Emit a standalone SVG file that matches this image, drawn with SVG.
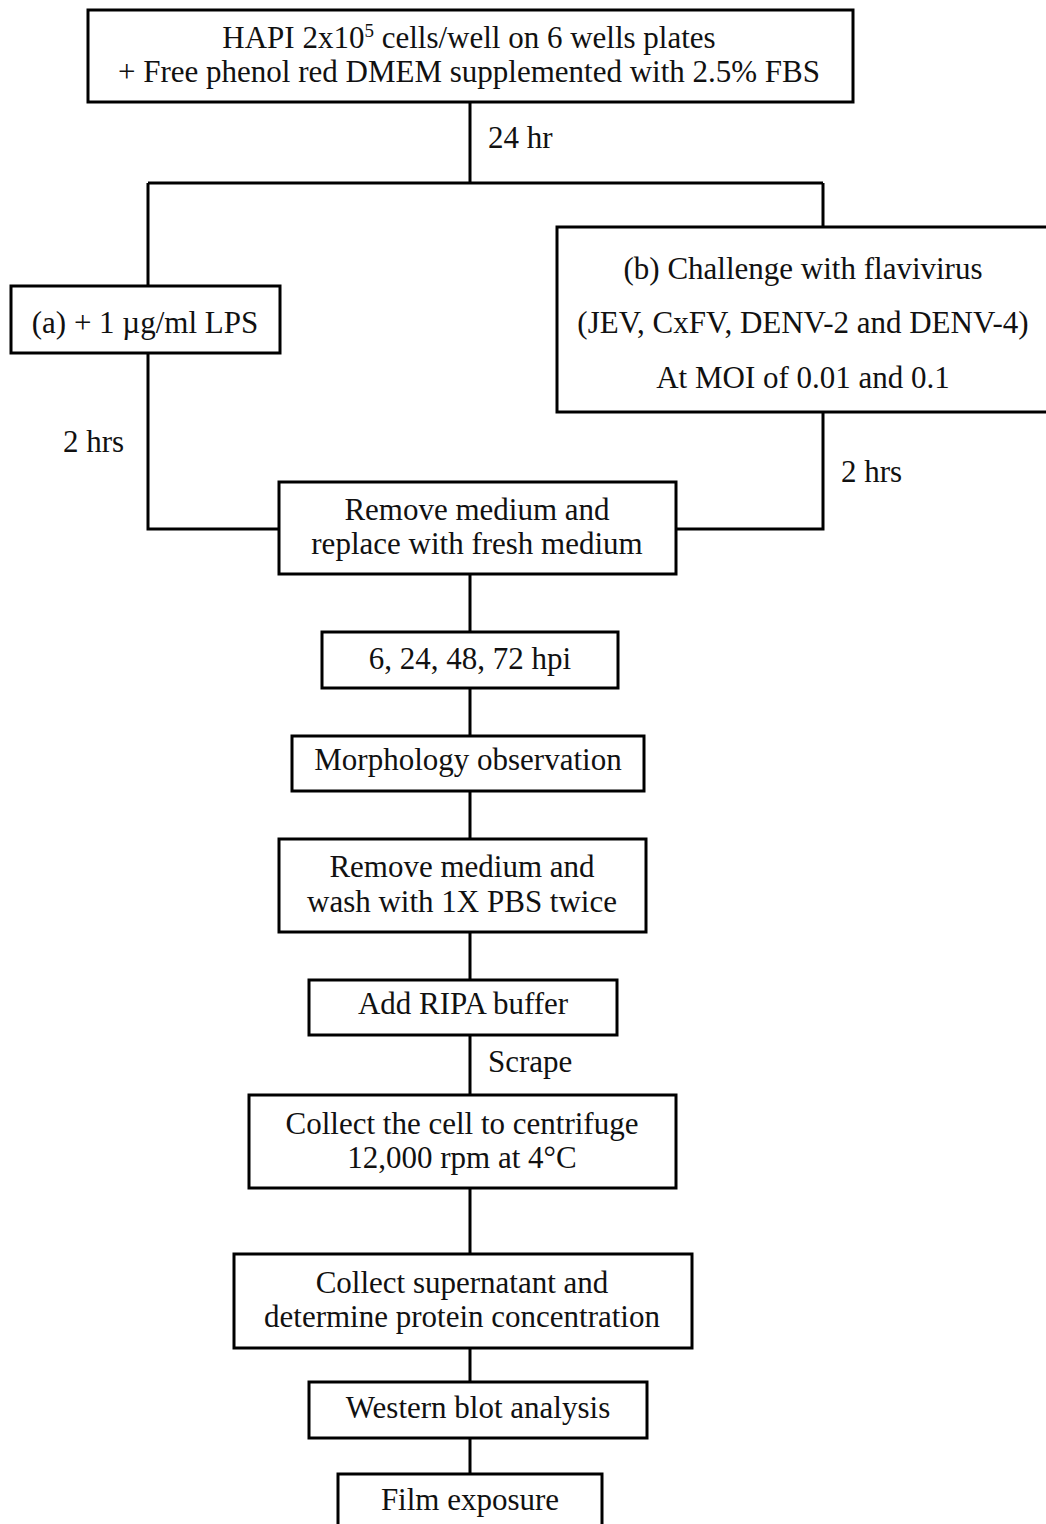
<svg xmlns="http://www.w3.org/2000/svg" width="1046" height="1524" viewBox="0 0 1046 1524">
<style>
.b{fill:#fff;stroke:#000;stroke-width:3}
.c{fill:none;stroke:#000;stroke-width:3}
text{font-family:"Liberation Serif","Times New Roman",serif;font-size:31px;fill:#111}
.m{text-anchor:middle}
</style>
<rect width="1046" height="1524" fill="#fff"/>
<g id="connectors">
<path class="c" d="M470 102V183M148 183H823M148 183V286M823 183V227"/>
<path class="c" d="M148 353V529H279M823 412V529H676"/>
<path class="c" d="M470 574V632M470 688V736M470 791V839M470 932V980M470 1035V1095M470 1188V1254M470 1348V1382M470 1438V1474"/>
<text x="488" y="148">24 hr</text>
<text x="63" y="452">2 hrs</text>
<text x="841" y="482">2 hrs</text>
<text x="488" y="1072">Scrape</text>
</g>
<g id="n1"><rect class="b" x="88" y="10" width="765" height="92"/>
<text class="m" x="469" y="48">HAPI 2x10<tspan dy="-11" font-size="19">5</tspan><tspan dy="11"> cells/well on 6 wells plates</tspan></text>
<text class="m" x="469" y="82">+ Free phenol red DMEM supplemented with 2.5% FBS</text></g>
<g id="n2"><rect class="b" x="11" y="286" width="269" height="67"/>
<text class="m" x="145" y="333">(a) + 1 µg/ml LPS</text></g>
<g id="n3"><rect class="b" x="557" y="227" width="495" height="185"/>
<text class="m" x="803" y="279">(b) Challenge with flavivirus</text>
<text class="m" x="803" y="333">(JEV, CxFV, DENV-2 and DENV-4)</text>
<text class="m" x="803" y="388">At MOI of 0.01 and 0.1</text></g>
<g id="n4"><rect class="b" x="279" y="482" width="397" height="92"/>
<text class="m" x="477" y="520">Remove medium and</text>
<text class="m" x="477" y="554">replace with fresh medium</text></g>
<g id="n5"><rect class="b" x="322" y="632" width="296" height="56"/>
<text class="m" x="470" y="669">6, 24, 48, 72 hpi</text></g>
<g id="n6"><rect class="b" x="292" y="736" width="352" height="55"/>
<text class="m" x="468" y="770">Morphology observation</text></g>
<g id="n7"><rect class="b" x="279" y="839" width="367" height="93"/>
<text class="m" x="462" y="877">Remove medium and</text>
<text class="m" x="462" y="912">wash with 1X PBS twice</text></g>
<g id="n8"><rect class="b" x="309" y="980" width="308" height="55"/>
<text class="m" x="463" y="1014">Add RIPA buffer</text></g>
<g id="n9"><rect class="b" x="249" y="1095" width="427" height="93"/>
<text class="m" x="462" y="1134">Collect the cell to centrifuge</text>
<text class="m" x="462" y="1168">12,000 rpm at 4°C</text></g>
<g id="n10"><rect class="b" x="234" y="1254" width="458" height="94"/>
<text class="m" x="462" y="1293">Collect supernatant and</text>
<text class="m" x="462" y="1327">determine protein concentration</text></g>
<g id="n11"><rect class="b" x="309" y="1382" width="338" height="56"/>
<text class="m" x="478" y="1418">Western blot analysis</text></g>
<g id="n12"><rect class="b" x="338" y="1474" width="264" height="60"/>
<text class="m" x="470" y="1510">Film exposure</text></g>
</svg>
